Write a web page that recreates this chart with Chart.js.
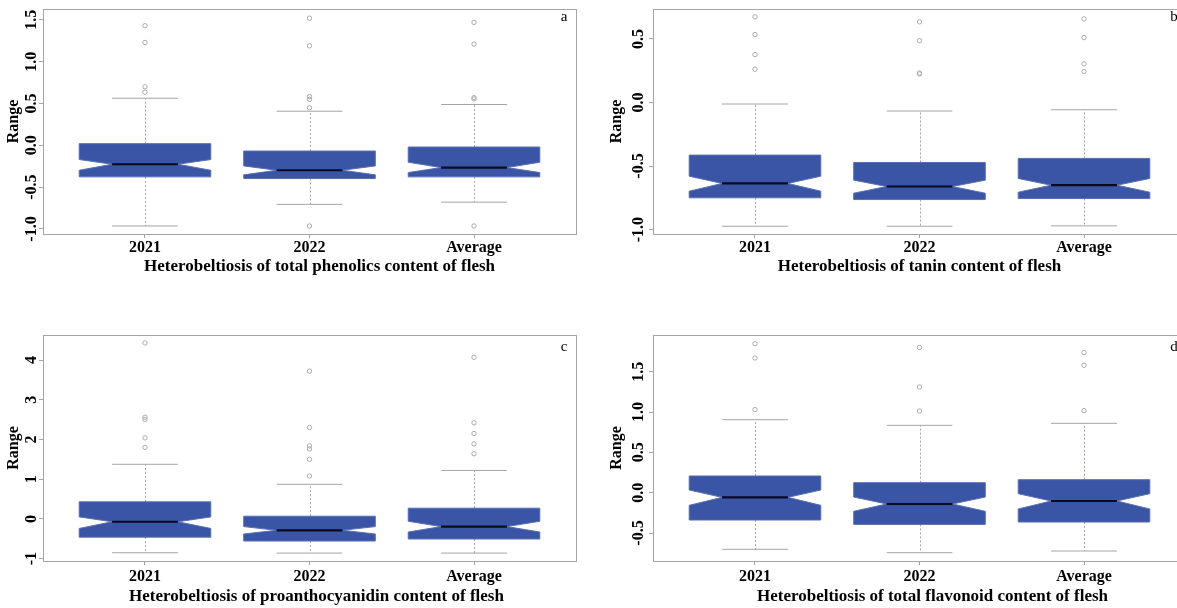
<!DOCTYPE html>
<html lang="en">
<head>
<meta charset="UTF-8">
<title>Heterobeltiosis of flesh phenolic compounds</title>
<script src="https://cdn.jsdelivr.net/npm/chart.js@4.4.1/dist/chart.umd.min.js"></script>
<style>
  html, body { margin: 0; padding: 0; background: #fff; overflow: hidden; width: 1177px; height: 608px; }
  .panel { position: absolute; }
</style>
</head>
<body>
<div class="panel" style="left:0;top:0"><canvas id="chartA" width="590" height="300"></canvas></div>
<div class="panel" style="left:600px;top:0"><canvas id="chartB" width="600" height="300"></canvas></div>
<div class="panel" style="left:0;top:300px"><canvas id="chartC" width="590" height="308"></canvas></div>
<div class="panel" style="left:600px;top:300px"><canvas id="chartD" width="600" height="308"></canvas></div>

<script>
const categories = ['2021', '2022', 'Average'];

// a - total phenolics
const phenolLow = [-0.964, -0.706, -0.679];
const phenolQ1 = [-0.377, -0.397, -0.377];
const phenolNotchLo = [-0.298, -0.353, -0.325];
const phenolMedian = [-0.226, -0.298, -0.266];
const phenolNotchHi = [-0.170, -0.246, -0.202];
const phenolQ3 = [0.020, -0.068, -0.020];
const phenolHigh = [0.563, 0.408, 0.488];
const phenolOutliers = [[1.43, 1.23, 0.70, 0.635], [1.52, 1.19, 0.583, 0.55, 0.449, -0.964], [1.47, 1.21, 0.57, 0.555, -0.964]];
const phenolTicks = [-1.0, -0.5, 0.0, 0.5, 1.0, 1.5];

// b - tanin
const taninLow = [-0.974, -0.974, -0.971];
const taninQ1 = [-0.750, -0.764, -0.756];
const taninNotchLo = [-0.698, -0.714, -0.706];
const taninMedian = [-0.637, -0.661, -0.651];
const taninNotchHi = [-0.580, -0.611, -0.598];
const taninQ3 = [-0.414, -0.472, -0.440];
const taninHigh = [-0.012, -0.067, -0.057];
const taninOutliers = [[0.674, 0.535, 0.377, 0.262], [0.635, 0.487, 0.232, 0.225], [0.658, 0.511, 0.304, 0.243]];
const taninTicks = [-1.0, -0.5, 0.0, 0.5];

// c - proanthocyanidin
const proantLow = [-0.852, -0.861, -0.861];
const proantQ1 = [-0.460, -0.557, -0.506];
const proantNotchLo = [-0.240, -0.380, -0.330];
const proantMedian = [-0.072, -0.287, -0.194];
const proantNotchHi = [0.050, -0.194, -0.060];
const proantQ3 = [0.430, 0.068, 0.270];
const proantHigh = [1.375, 0.870, 1.220];
const proantOutliers = [[4.43, 2.56, 2.50, 2.04, 1.80], [3.72, 2.30, 1.84, 1.76, 1.50, 1.08], [4.07, 2.42, 2.15, 1.89, 1.64]];
const proantTicks = [-1, 0, 1, 2, 3, 4];

// d - total flavonoid
const flavLow = [-0.702, -0.744, -0.723];
const flavQ1 = [-0.339, -0.393, -0.364];
const flavNotchLo = [-0.157, -0.231, -0.202];
const flavMedian = [-0.058, -0.140, -0.103];
const flavNotchHi = [0.033, -0.054, -0.012];
const flavQ3 = [0.207, 0.124, 0.161];
const flavHigh = [0.905, 0.835, 0.860];
const flavOutliers = [[1.847, 1.67, 1.03], [1.80, 1.31, 1.012], [1.736, 1.58, 1.017]];
const flavTicks = [-0.5, 0.0, 0.5, 1.0, 1.5];

const serif = '"Liberation Serif", "Times New Roman", serif';
const boxColor = '#3a55a6';
const greyLine = '#a5a5a5';

function makeStats(lo, q1, nlo, med, nhi, q3, hi) {
  return categories.map((c, i) => ({ lo: lo[i], q1: q1[i], nlo: nlo[i], med: med[i], nhi: nhi[i], q3: q3[i], hi: hi[i] }));
}

// notched boxes (R style), drawn through the chart scales
const notchBoxes = {
  id: 'notchBoxes',
  beforeDatasetsDraw(chart, args, opts) {
    const { ctx, scales: { x, y } } = chart;
    const py = v => y.getPixelForValue(v);
    ctx.save();
    opts.stats.forEach((s, i) => {
      const c = i + 1;
      const xc = Math.round(x.getPixelForValue(c)) + 0.5;
      const xl = x.getPixelForValue(c - 0.4), xr = x.getPixelForValue(c + 0.4);
      const nl = x.getPixelForValue(c - 0.2), nr = x.getPixelForValue(c + 0.2);

      // whiskers
      ctx.strokeStyle = greyLine;
      ctx.lineWidth = 1;
      ctx.setLineDash([2, 2]);
      ctx.beginPath();
      ctx.moveTo(xc, py(s.q3)); ctx.lineTo(xc, py(s.hi));
      ctx.moveTo(xc, py(s.q1)); ctx.lineTo(xc, py(s.lo));
      ctx.stroke();
      ctx.setLineDash([]);
      ctx.beginPath();
      ctx.moveTo(nl, py(s.hi)); ctx.lineTo(nr, py(s.hi));
      ctx.moveTo(nl, py(s.lo)); ctx.lineTo(nr, py(s.lo));
      ctx.stroke();

      // box with notch
      ctx.fillStyle = boxColor;
      ctx.strokeStyle = '#5a6fb0';
      ctx.beginPath();
      ctx.moveTo(xl, py(s.q3));
      ctx.lineTo(xr, py(s.q3));
      ctx.lineTo(xr, py(s.nhi));
      ctx.lineTo(nr, py(s.med));
      ctx.lineTo(xr, py(s.nlo));
      ctx.lineTo(xr, py(s.q1));
      ctx.lineTo(xl, py(s.q1));
      ctx.lineTo(xl, py(s.nlo));
      ctx.lineTo(nl, py(s.med));
      ctx.lineTo(xl, py(s.nhi));
      ctx.closePath();
      ctx.fill();
      ctx.stroke();

      // median
      ctx.strokeStyle = '#0a0a1e';
      ctx.lineWidth = 2.2;
      ctx.beginPath();
      ctx.moveTo(nl, py(s.med)); ctx.lineTo(nr, py(s.med));
      ctx.stroke();
    });
    ctx.restore();
  },
  afterDraw(chart, args, opts) {
    const { ctx, chartArea: a, scales: { y } } = chart;
    ctx.save();
    // frame
    ctx.strokeStyle = greyLine;
    ctx.lineWidth = 1;
    ctx.strokeRect(Math.round(a.left) + 0.5, Math.round(a.top) + 0.5, Math.round(a.right - a.left), Math.round(a.bottom - a.top));

    // rotated y tick labels
    ctx.fillStyle = '#000';
    ctx.font = 'bold 16px ' + serif;
    ctx.textAlign = 'center';
    ctx.textBaseline = 'middle';
    y.ticks.forEach(t => {
      ctx.save();
      ctx.translate(a.left - opts.labelGap, y.getPixelForValue(t.value));
      ctx.rotate(-Math.PI / 2);
      ctx.fillText(t.value.toFixed(opts.decimals), 0, 0);
      ctx.restore();
    });

    // x axis title (sits a little off-centre in the original figure)
    ctx.font = 'bold 17px ' + serif;
    ctx.fillText(opts.title, (a.left + a.right) / 2 + opts.titleDx, a.bottom + opts.titleDy);

    // panel letter
    ctx.font = '15px ' + serif;
    ctx.fillText(opts.letter, a.right - 12, a.top + opts.letterDy);
    ctx.restore();
  }
};

function makeChart(p) {
  const points = [];
  p.outliers.forEach((list, i) => list.forEach(v => points.push({ x: i + 1, y: v })));
  return new Chart(document.getElementById(p.id), {
    type: 'scatter',
    data: {
      datasets: [{
        data: points,
        pointRadius: 2.2,
        pointBorderWidth: 1,
        pointBorderColor: '#ababab',
        pointBackgroundColor: 'rgba(0,0,0,0)'
      }]
    },
    options: {
      responsive: false,
      animation: false,
      events: [],
      layout: { padding: { top: p.padTop, right: 14, left: 0, bottom: 0 } },
      plugins: {
        legend: { display: false },
        tooltip: { enabled: false },
        notchBoxes: {
          stats: p.stats, labelGap: p.labelGap, decimals: p.decimals, letter: p.letter, letterDy: p.letterDy,
          title: p.title, titleDx: p.titleDx, titleDy: p.titleDy
        }
      },
      scales: {
        x: {
          type: 'linear',
          min: 0.38,
          max: 3.62,
          afterBuildTicks: s => { s.ticks = categories.map((c, i) => ({ value: i + 1 })); },
          afterFit: s => { s.height = p.xHeight; },
          ticks: {
            callback: v => categories[v - 1],
            color: '#000',
            font: { family: serif, size: 16, weight: 'bold' },
            padding: p.tickPad,
            autoSkip: false,
            maxRotation: 0
          },
          grid: { drawOnChartArea: false, drawTicks: true, tickLength: 4, color: greyLine },
          border: { display: false }
        },
        y: {
          type: 'linear',
          min: p.yMin,
          max: p.yMax,
          afterBuildTicks: s => { s.ticks = p.ticks.map(v => ({ value: v })); },
          afterFit: s => { s.width = p.yWidth; },
          ticks: { display: false },
          grid: { drawOnChartArea: false, drawTicks: true, tickLength: 4, color: greyLine },
          border: { display: false },
          title: {
            display: true,
            text: 'Range',
            color: '#000',
            font: { family: serif, size: 16, weight: 'bold' },
            padding: { top: p.rangePad, bottom: 0 }
          }
        }
      }
    },
    plugins: [notchBoxes]
  });
}

makeChart({
  id: 'chartA', letter: 'a', title: 'Heterobeltiosis of total phenolics content of flesh',
  stats: makeStats(phenolLow, phenolQ1, phenolNotchLo, phenolMedian, phenolNotchHi, phenolQ3, phenolHigh),
  outliers: phenolOutliers, ticks: phenolTicks, decimals: 1, yMin: -1.06, yMax: 1.63,
  padTop: 9, xHeight: 66, yWidth: 43, tickPad: 0, rangePad: 4, labelGap: 11, letterDy: 8, titleDx: 10, titleDy: 33
});
makeChart({
  id: 'chartB', letter: 'b', title: 'Heterobeltiosis of tanin content of flesh',
  stats: makeStats(taninLow, taninQ1, taninNotchLo, taninMedian, taninNotchHi, taninQ3, taninHigh),
  outliers: taninOutliers, ticks: taninTicks, decimals: 1, yMin: -1.035, yMax: 0.736,
  padTop: 9, xHeight: 66, yWidth: 53, tickPad: 0, rangePad: 7, labelGap: 14, letterDy: 8, titleDx: 0, titleDy: 33
});
makeChart({
  id: 'chartC', letter: 'c', title: 'Heterobeltiosis of proanthocyanidin content of flesh',
  stats: makeStats(proantLow, proantQ1, proantNotchLo, proantMedian, proantNotchHi, proantQ3, proantHigh),
  outliers: proantOutliers, ticks: proantTicks, decimals: 0, yMin: -1.06, yMax: 4.63,
  padTop: 35, xHeight: 47, yWidth: 43, tickPad: 2, rangePad: 4, labelGap: 11, letterDy: 12, titleDx: 7, titleDy: 36
});
makeChart({
  id: 'chartD', letter: 'd', title: 'Heterobeltiosis of total flavonoid content of flesh',
  stats: makeStats(flavLow, flavQ1, flavNotchLo, flavMedian, flavNotchHi, flavQ3, flavHigh),
  outliers: flavOutliers, ticks: flavTicks, decimals: 1, yMin: -0.847, yMax: 1.955,
  padTop: 35, xHeight: 47, yWidth: 53, tickPad: 2, rangePad: 7, labelGap: 14, letterDy: 12, titleDx: 13, titleDy: 36
});
</script>
</body>
</html>
